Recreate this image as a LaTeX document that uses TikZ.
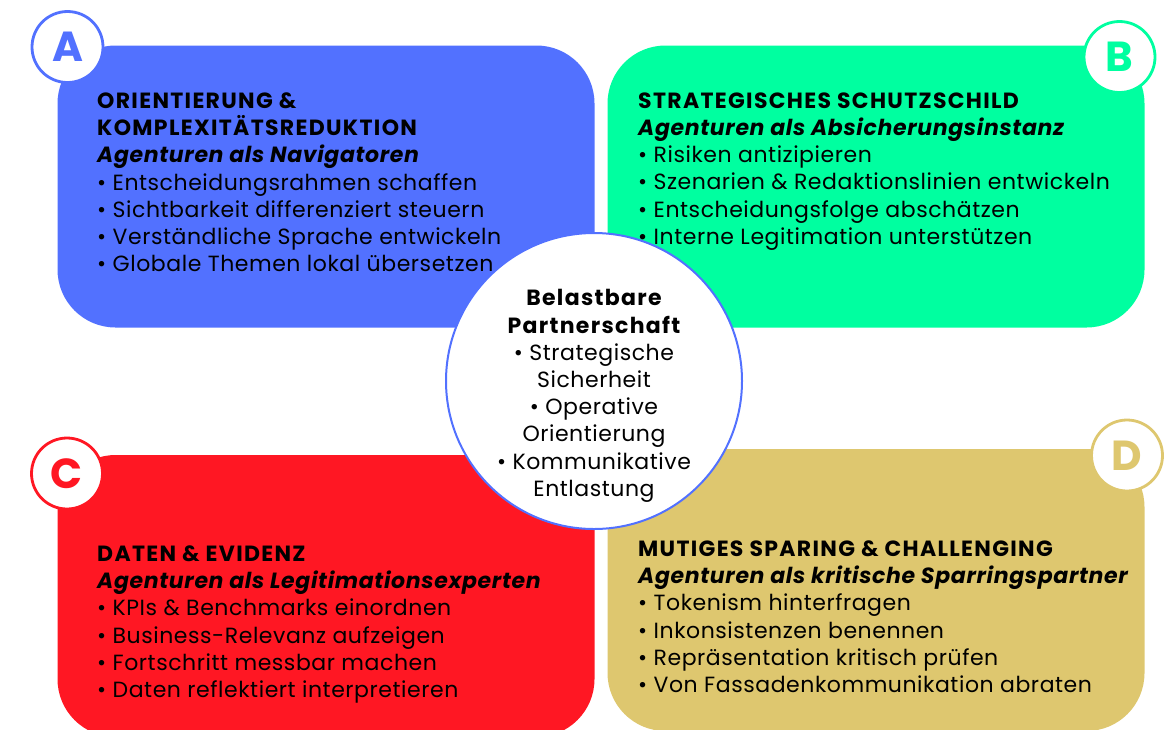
\documentclass[tikz,border=0pt]{standalone}
\usepackage{fontspec}
\setmainfont{Poppins}[LetterSpace=2.5]
\definecolor{cblue}{HTML}{5271FF}
\definecolor{cgreen}{HTML}{00FFA0}
\definecolor{cred}{HTML}{FF1723}
\definecolor{cgold}{HTML}{DEC76F}
\newcommand{\hdr}[1]{{\bfseries\addfontfeatures{LetterSpace=6}#1}}
\newcommand{\sub}[1]{{\bfseries\itshape\addfontfeatures{LetterSpace=3}#1}}
\begin{document}
\begin{tikzpicture}[x=1pt,y=-1pt,
  box/.style={rounded corners=58pt, minimum width=537pt, minimum height=282pt, inner sep=0pt, draw=none},
  txt/.style={anchor=north west, align=left, inner sep=0pt, font=\fontsize{22}{27.2}\selectfont},
  badge/.style={circle, draw=#1, fill=white, line width=2.8pt, minimum size=71pt, inner sep=0pt, text=#1, font=\fontsize{42}{42}\selectfont\bfseries},
  hub/.style={circle, draw=cblue, fill=white, line width=2pt, minimum size=296pt, inner sep=0pt}
]
\useasboundingbox (0,0) rectangle (1173,729);
\clip (0,0) rectangle (1173,729);
\node[box, fill=cblue] (boxA) at (326,186.5) {};
\node[box, fill=cgreen] (boxB) at (876,186.5) {};
\node[box, fill=cred] (boxC) at (326,596) {};
\node[box, fill=cgold] (boxD) at (876,590) {};
\node[badge=cblue] (bA) at (67.5,47) {A};
\node[badge=cgreen] (bB) at (1119.5,57) {B};
\node[badge=cred] (bC) at (67,473.5) {C};
\node[badge=cgold] (bD) at (1127,455.5) {D};
\node[hub] (hub) at (594,381) {};
\node[txt] (tA) at (97,92.5) {\hdr{ORIENTIERUNG \&}\\\hdr{KOMPLEXITÄTSREDUKTION}\\\sub{Agenturen als Navigatoren}\\• Entscheidungsrahmen schaffen\\• Sichtbarkeit differenziert steuern\\• Verständliche Sprache entwickeln\\• Globale Themen lokal übersetzen};
\node[txt] (tB) at (638,92.5) {\hdr{STRATEGISCHES SCHUTZSCHILD}\\\sub{Agenturen als Absicherungsinstanz}\\• Risiken antizipieren\\• Szenarien \& Redaktionslinien entwickeln\\• Entscheidungsfolge abschätzen\\• Interne Legitimation unterstützen};
\node[txt] (tC) at (97,545.5) {\hdr{DATEN \& EVIDENZ}\\\sub{Agenturen als Legitimationsexperten}\\• KPIs \& Benchmarks einordnen\\• Business-Relevanz aufzeigen\\• Fortschritt messbar machen\\• Daten reflektiert interpretieren};
\node[txt] (tD) at (638,540.5) {\hdr{MUTIGES SPARING \& CHALLENGING}\\\sub{Agenturen als kritische Sparringspartner}\\• Tokenism hinterfragen\\• Inkonsistenzen benennen\\• Repräsentation kritisch prüfen\\• Von Fassadenkommunikation abraten};
\node[txt, anchor=north, align=center] (tH) at (594,289.5) {\hdr{Belastbare}\\\hdr{Partnerschaft}\\• Strategische\\Sicherheit\\• Operative\\Orientierung\\• Kommunikative\\Entlastung};
\end{tikzpicture}
\end{document}
